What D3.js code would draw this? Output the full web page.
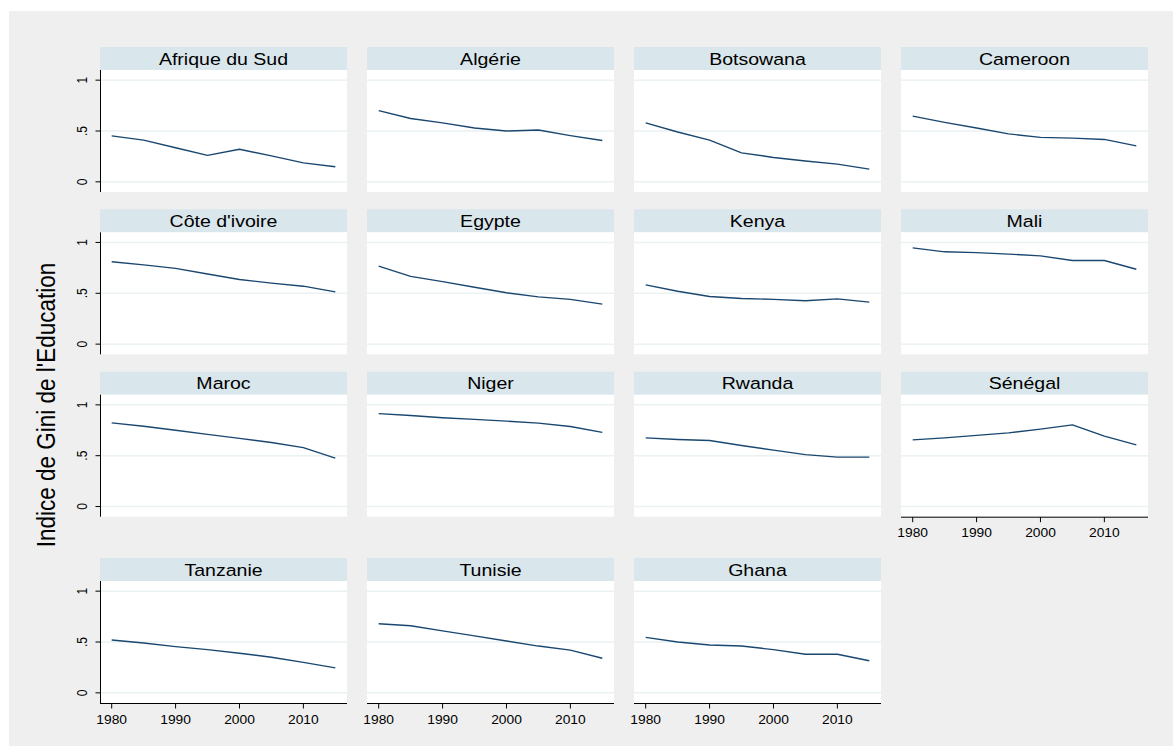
<!DOCTYPE html>
<html>
<head>
<meta charset="utf-8">
<script src="https://cdn.jsdelivr.net/npm/d3@7"></script>
<style>
  html, body { margin: 0; padding: 0; background: #ffffff; }
  svg { display: block; }
  text { font-family: "Liberation Sans", Arial, sans-serif; fill: #000; }
</style>
</head>
<body>
<svg id="chart" width="1173" height="756"></svg>
<script>
// Education Gini index by country, 1980–2015 (five-year steps)
const years = [1980, 1985, 1990, 1995, 2000, 2005, 2010, 2015];

const countries = [
  "Afrique du Sud", "Algérie", "Botsowana", "Cameroon",
  "Côte d'ivoire", "Egypte", "Kenya", "Mali",
  "Maroc", "Niger", "Rwanda", "Sénégal",
  "Tanzanie", "Tunisie", "Ghana"
];

const giniAfriqueDuSud = [0.452, 0.41, 0.335, 0.26, 0.32, 0.255, 0.187, 0.148];
const giniAlgerie      = [0.70, 0.623, 0.58, 0.53, 0.50, 0.51, 0.455, 0.407];
const giniBotsowana    = [0.58, 0.49, 0.41, 0.285, 0.24, 0.205, 0.174, 0.125];
const giniCameroon     = [0.646, 0.585, 0.53, 0.472, 0.437, 0.43, 0.417, 0.354];
const giniCoteDIvoire  = [0.81, 0.78, 0.745, 0.69, 0.636, 0.60, 0.57, 0.514];
const giniEgypte       = [0.767, 0.666, 0.615, 0.56, 0.505, 0.465, 0.44, 0.393];
const giniKenya        = [0.583, 0.52, 0.469, 0.449, 0.44, 0.426, 0.445, 0.413];
const giniMali         = [0.947, 0.908, 0.90, 0.885, 0.868, 0.823, 0.823, 0.737];
const giniMaroc        = [0.823, 0.79, 0.75, 0.71, 0.67, 0.63, 0.58, 0.476];
const giniNiger        = [0.914, 0.895, 0.873, 0.857, 0.84, 0.82, 0.787, 0.73];
const giniRwanda       = [0.675, 0.66, 0.649, 0.60, 0.555, 0.511, 0.486, 0.486];
const giniSenegal      = [0.656, 0.675, 0.70, 0.725, 0.761, 0.803, 0.692, 0.607];
const giniTanzanie     = [0.52, 0.49, 0.455, 0.425, 0.39, 0.35, 0.30, 0.246];
const giniTunisie      = [0.68, 0.66, 0.61, 0.56, 0.51, 0.46, 0.42, 0.34];
const giniGhana        = [0.545, 0.50, 0.47, 0.46, 0.425, 0.38, 0.38, 0.315];

const yTickValues = [0, 0.5, 1];
const yTickLabels = ["0", ".5", "1"];
const xTickValues = [1980, 1990, 2000, 2010];

const seriesValues = [
  giniAfriqueDuSud, giniAlgerie, giniBotsowana, giniCameroon,
  giniCoteDIvoire, giniEgypte, giniKenya, giniMali,
  giniMaroc, giniNiger, giniRwanda, giniSenegal,
  giniTanzanie, giniTunisie, giniGhana
];

const panels = countries.map((name, i) => ({
  name,
  index: i,
  points: years.map((yr, j) => ({ year: yr, value: seriesValues[i][j] }))
}));

// ---- layout ----
const svg = d3.select("#chart");
const colX = [100, 367, 634, 901];
const rowY = [47, 209.3, 371.7, 558];
const panelW = 247, stripH = 23, plotH = 122;
const nCols = 4;
const textStretch = 1.15;

const colors = {
  outer: "#efefef",
  plot: "#ffffff",
  strip: "#d9e6eb",
  grid: "#eaf2f3",
  line: "#1a476f",
  axis: "#000000"
};

svg.append("rect")
  .attr("x", 9).attr("y", 11)
  .attr("width", 1173 - 9).attr("height", 746 - 11)
  .attr("fill", colors.outer);

const x = d3.scaleLinear().domain([1978.17, 2016.83]).range([0, panelW]);
const y = d3.scaleLinear().domain([-0.1, 1.1]).range([plotH, 0]);

const line = d3.line()
  .x(d => x(d.year))
  .y(d => y(d.value));

// last panel in each column gets an x axis
const lastInCol = {};
panels.forEach(p => { lastInCol[p.index % nCols] = p.index; });

panels.forEach(p => {
  const col = p.index % nCols;
  const row = Math.floor(p.index / nCols);
  const g = svg.append("g")
    .attr("transform", `translate(${colX[col]},${rowY[row]})`);

  // strip with panel title
  g.append("rect")
    .attr("x", 0).attr("y", 0)
    .attr("width", panelW).attr("height", stripH)
    .attr("fill", colors.strip);
  g.append("text")
    .attr("transform", `translate(${panelW / 2},17.5) scale(${textStretch},1)`)
    .attr("text-anchor", "middle")
    .style("font-size", "17px")
    .text(p.name);

  // plot region
  const pg = g.append("g").attr("transform", `translate(0,${stripH})`);
  pg.append("rect")
    .attr("x", 0).attr("y", 0)
    .attr("width", panelW).attr("height", plotH)
    .attr("fill", colors.plot);

  pg.selectAll("line.grid")
    .data(yTickValues)
    .join("line")
    .attr("class", "grid")
    .attr("x1", 0).attr("x2", panelW)
    .attr("y1", d => y(d)).attr("y2", d => y(d))
    .attr("stroke", colors.grid)
    .attr("stroke-width", 1.5);

  pg.append("path")
    .datum(p.points)
    .attr("d", line)
    .attr("fill", "none")
    .attr("stroke", colors.line)
    .attr("stroke-width", 1.4)
    .attr("stroke-linejoin", "round");

  // y axis on the first column
  if (col === 0) {
    const ya = pg.append("g").attr("transform", "translate(0.5,0)");
    ya.append("line")
      .attr("x1", 0).attr("x2", 0)
      .attr("y1", 0).attr("y2", plotH)
      .attr("stroke", colors.axis).attr("stroke-width", 1);
    ya.selectAll("line.tick")
      .data(yTickValues)
      .join("line")
      .attr("class", "tick")
      .attr("x1", -5).attr("x2", 0)
      .attr("y1", d => y(d)).attr("y2", d => y(d))
      .attr("stroke", colors.axis).attr("stroke-width", 1);
    ya.selectAll("text")
      .data(yTickValues)
      .join("text")
      .attr("transform", d => `translate(-14,${y(d)}) scale(${textStretch},1) rotate(-90)`)
      .attr("text-anchor", "middle")
      .style("font-size", "12px")
      .text((d, i) => yTickLabels[i]);
  }

  // x axis under the last panel of each column
  if (lastInCol[col] === p.index) {
    const xa = pg.append("g").attr("transform", `translate(0,${plotH + 0.5})`);
    xa.append("line")
      .attr("x1", 0).attr("x2", panelW)
      .attr("y1", 0).attr("y2", 0)
      .attr("stroke", colors.axis).attr("stroke-width", 1);
    xa.selectAll("line.tick")
      .data(xTickValues)
      .join("line")
      .attr("class", "tick")
      .attr("x1", d => x(d)).attr("x2", d => x(d))
      .attr("y1", 0).attr("y2", 5)
      .attr("stroke", colors.axis).attr("stroke-width", 1);
    xa.selectAll("text")
      .data(xTickValues)
      .join("text")
      .attr("transform", d => `translate(${x(d)},20) scale(${textStretch},1)`)
      .attr("text-anchor", "middle")
      .style("font-size", "12px")
      .text(d => d);
  }
});

// shared y-axis title
svg.append("text")
  .attr("transform", `translate(55,405) scale(${textStretch},1) rotate(-90)`)
  .attr("text-anchor", "middle")
  .style("font-size", "22.5px")
  .text("Indice de Gini de l'Education");
</script>
</body>
</html>
